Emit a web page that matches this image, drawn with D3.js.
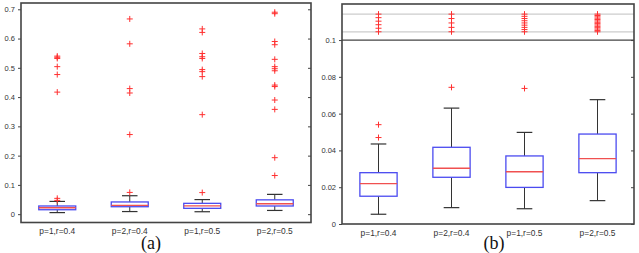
<!DOCTYPE html>
<html>
<head>
  <meta charset="utf-8" />
  <title>Boxplots</title>
  <style>
    body { margin: 0; background: #fff; }
    text { font-family: "Liberation Sans", Arial, sans-serif; fill: #333; }
  </style>
  <script src="https://cdnjs.cloudflare.com/ajax/libs/d3/7.8.5/d3.min.js"></script>
</head>
<body>
  <script>
    // data (same runs in both panels)
    var categories = ['p=1,r=0.4', 'p=2,r=0.4', 'p=1,r=0.5', 'p=2,r=0.5'];
    var whiskerLow = [0.0053, 0.0089, 0.0083, 0.0127];
    var q1 = [0.0151, 0.0254, 0.0199, 0.0279];
    var medians = [0.0219, 0.0303, 0.0284, 0.0355];
    var q3 = [0.0279, 0.0417, 0.037, 0.0489];
    var whiskerHigh = [0.0435, 0.063, 0.0498, 0.0676];
    var outliers = [
      [0.047, 0.054, 0.417, 0.477, 0.504, 0.532, 0.536, 0.54],
      [0.0743, 0.272, 0.414, 0.429, 0.582, 0.667],
      [0.0737, 0.34, 0.47, 0.487, 0.494, 0.532, 0.538, 0.549, 0.621, 0.633],
      [0.132, 0.193, 0.358, 0.39, 0.436, 0.441, 0.49, 0.497, 0.504, 0.529, 0.579, 0.59, 0.685, 0.69]
    ];
    var ticksA = [0, 0.1, 0.2, 0.3, 0.4, 0.5, 0.6, 0.7];
    var ticksB = [0, 0.02, 0.04, 0.06, 0.08, 0.1];
    var limitB = 0.1;          // panel (b) data limit, larger values are compressed
    var bandB = [0.1045, 0.1141]; // compressed band (in axis units)
    var topB = 0.1196;

    var W = 639, H = 253;
    var svg = d3.select('body').append('svg').attr('width', W).attr('height', H);

    var rows = categories.map(function (c, i) {
      return { cat: c, lo: whiskerLow[i], q1: q1[i], med: medians[i], q3: q3[i], hi: whiskerHigh[i], out: outliers[i] };
    });

    function drawPanel(opt) {
      var g = svg.append('g');
      var x = d3.scaleBand().domain(categories).range([opt.left, opt.right]);
      var y = d3.scaleLinear().domain(opt.domain).range([opt.bottom, opt.top]);
      var bw = x.bandwidth() * 0.51, cw = bw * 0.42;
      var cx = function (d) { return x(d.cat) + x.bandwidth() / 2; };

      if (opt.extras) opt.extras(g, x, y);

      var box = g.selectAll('.bx').data(rows).enter().append('g');
      // whiskers
      box.append('line').attr('x1', cx).attr('x2', cx)
        .attr('y1', d => y(d.q3)).attr('y2', d => y(d.hi))
        .attr('stroke', '#333').attr('stroke-width', 1);
      box.append('line').attr('x1', cx).attr('x2', cx)
        .attr('y1', d => y(d.q1)).attr('y2', d => y(d.lo))
        .attr('stroke', '#333').attr('stroke-width', 1);
      box.append('line').attr('x1', d => cx(d) - cw / 2).attr('x2', d => cx(d) + cw / 2)
        .attr('y1', d => y(d.hi)).attr('y2', d => y(d.hi))
        .attr('stroke', '#333').attr('stroke-width', 1.2);
      box.append('line').attr('x1', d => cx(d) - cw / 2).attr('x2', d => cx(d) + cw / 2)
        .attr('y1', d => y(d.lo)).attr('y2', d => y(d.lo))
        .attr('stroke', '#333').attr('stroke-width', 1.2);
      box.append('rect')
        .attr('x', d => cx(d) - bw / 2).attr('width', bw)
        .attr('y', d => y(d.q3)).attr('height', d => y(d.q1) - y(d.q3))
        .attr('fill', '#fff').attr('stroke', '#4b4bf0').attr('stroke-width', 1.3);
      box.append('line').attr('x1', d => cx(d) - bw / 2).attr('x2', d => cx(d) + bw / 2)
        .attr('y1', d => y(d.med)).attr('y2', d => y(d.med))
        .attr('stroke', '#f05050').attr('stroke-width', 1.3);

      // outliers as red plus marks
      var pts = [];
      rows.forEach(function (d) {
        var big = d.out.filter(v => !(opt.limit && v > opt.limit));
        var ext = d.out.filter(v => opt.limit && v > opt.limit);
        big.forEach(v => pts.push({ x: cx(d), y: y(v) }));
        if (ext.length) {
          var r = d3.scaleLinear().domain([0, ext.length - 1]).range(opt.band);
          ext.forEach((v, k) => pts.push({ x: cx(d), y: y(r(k)) }));
        }
      });
      var s = 3;
      var plus = g.selectAll('.pt').data(pts).enter().append('g');
      plus.append('line').attr('x1', d => d.x - s).attr('x2', d => d.x + s)
        .attr('y1', d => d.y).attr('y2', d => d.y).attr('stroke', '#ff3030').attr('stroke-width', 1);
      plus.append('line').attr('x1', d => d.x).attr('x2', d => d.x)
        .attr('y1', d => d.y - s).attr('y2', d => d.y + s).attr('stroke', '#ff3030').attr('stroke-width', 1);

      // frame
      g.append('rect').attr('x', opt.left).attr('y', opt.top)
        .attr('width', opt.right - opt.left).attr('height', opt.bottom - opt.top)
        .attr('fill', 'none').attr('stroke', '#444').attr('stroke-width', 1.6);

      var ya = g.append('g').attr('transform', 'translate(' + opt.left + ',0)')
        .call(d3.axisLeft(y).tickValues(opt.ticks).tickSize(3).tickPadding(3).tickFormat(d3.format('')));
      ya.select('.domain').remove();
      ya.selectAll('text').style('font-size', '7.5px').style('font-family', '"Liberation Sans", Arial, sans-serif').attr('fill', '#333');
      ya.selectAll('line').attr('stroke', '#444');
      var yr = g.append('g').attr('transform', 'translate(' + opt.right + ',0)')
        .call(d3.axisLeft(y).tickValues(opt.ticks).tickSize(3).tickFormat(''));
      yr.select('.domain').remove();
      yr.selectAll('line').attr('stroke', '#444');

      var xa = g.append('g').attr('transform', 'translate(0,' + opt.bottom + ')')
        .call(d3.axisBottom(x).tickSize(0).tickPadding(6));
      xa.select('.domain').remove();
      xa.selectAll('text').style('font-size', '8.4px').style('font-family', '"Liberation Sans", Arial, sans-serif').attr('fill', '#333');

      g.append('text').attr('text-anchor', 'middle')
        .attr('x', opt.captionX).attr('y', 249)
        .style('font-family', '"Liberation Serif", "DejaVu Serif", "Times New Roman", serif')
        .style('font-size', '18px').style('fill', '#111')
        .text(opt.caption);
    }

    drawPanel({
      left: 21, right: 311, top: 3, bottom: 222.5,
      domain: [-0.0285, 0.7215], ticks: ticksA,
      caption: '(a)', captionX: 151
    });

    drawPanel({
      left: 342, right: 634, top: 4, bottom: 224,
      domain: [0, topB], ticks: ticksB,
      limit: limitB, band: bandB,
      caption: '(b)', captionX: 494,
      extras: function (g, x, y) {
        g.selectAll('.bl').data(bandB).enter().append('line')
          .attr('x1', 342).attr('x2', 634)
          .attr('y1', d => y(d)).attr('y2', d => y(d))
          .attr('stroke', '#ccc').attr('stroke-width', 1.2);
        g.append('line').attr('x1', 342).attr('x2', 634)
          .attr('y1', y(limitB)).attr('y2', y(limitB))
          .attr('stroke', '#444').attr('stroke-width', 1.2);
      }
    });
  </script>
</body>
</html>
